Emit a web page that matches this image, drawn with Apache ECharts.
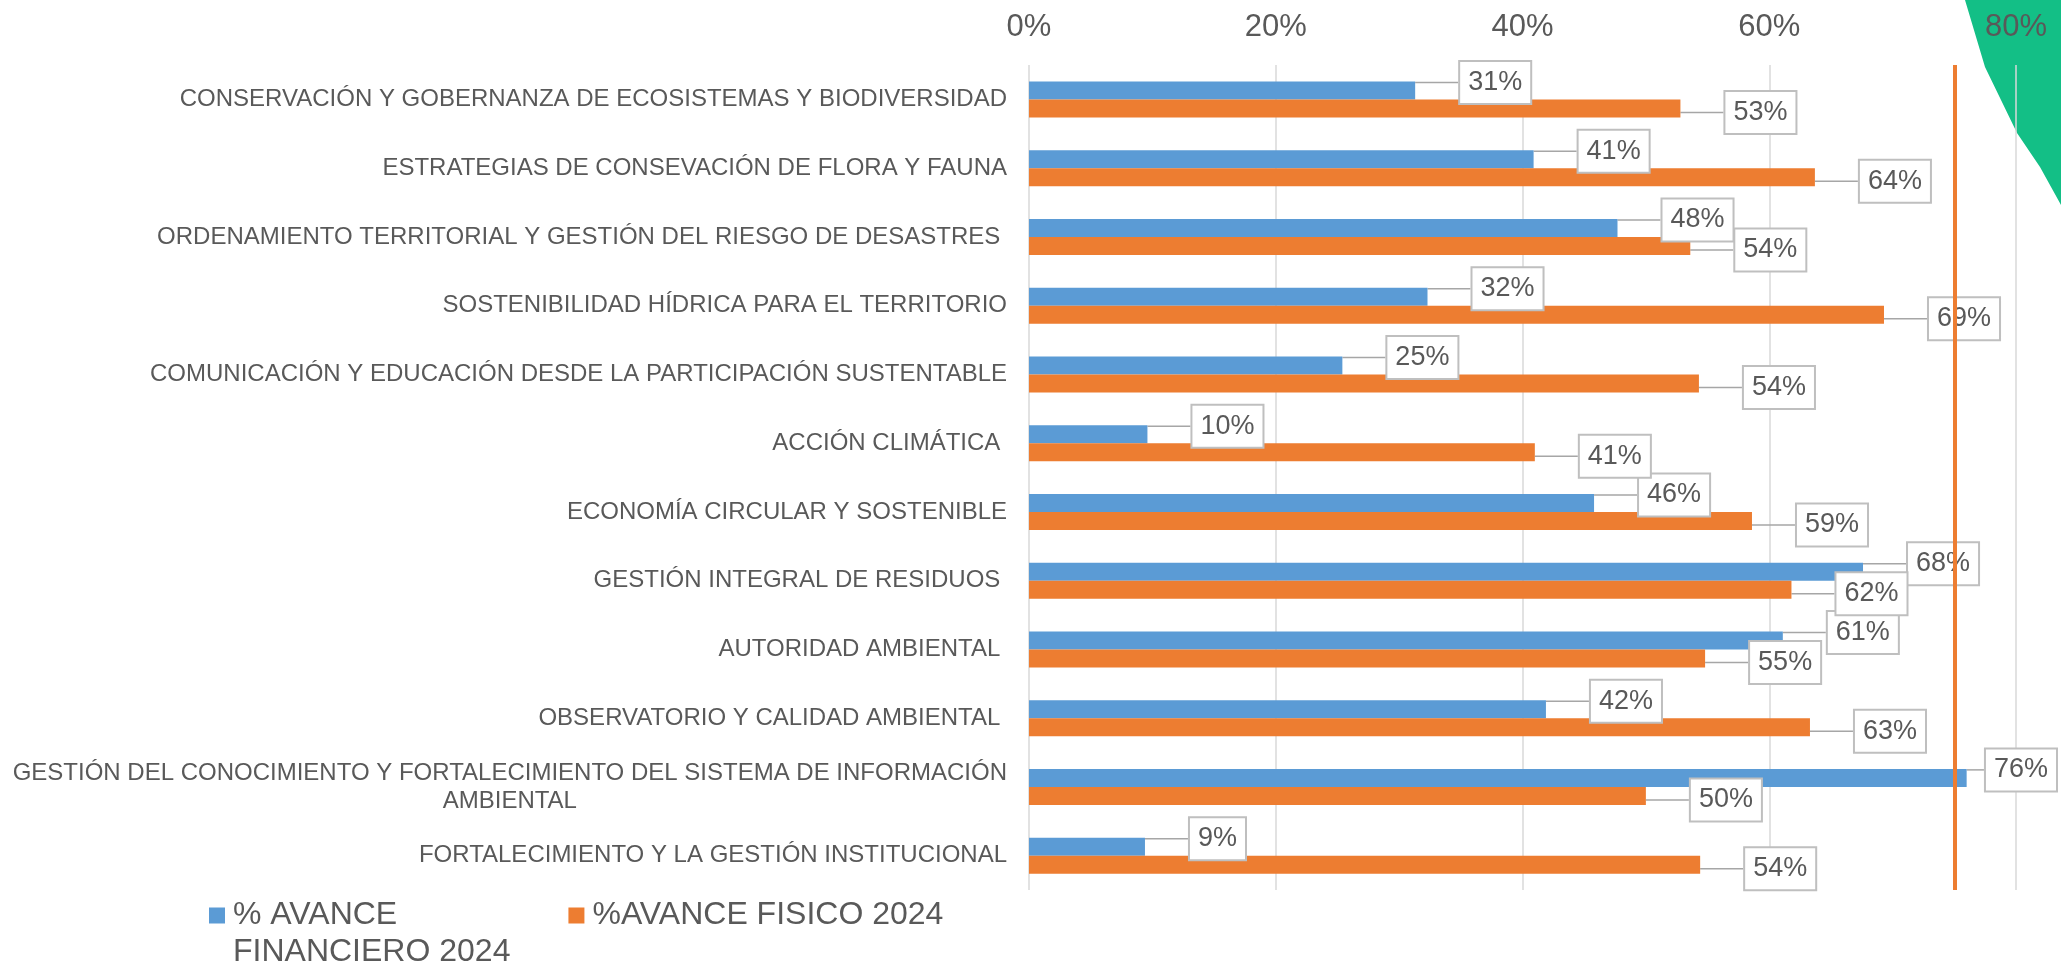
<!DOCTYPE html>
<html>
<head lang="es">
    <meta charset="UTF-8"/>
    <title>Avance por línea estratégica 2024</title>
    <script src="https://cdn.jsdelivr.net/npm/echarts@6/dist/echarts.min.js"></script>
    <style>
        html, body { margin: 0; padding: 0; background: #ffffff; }
        #grafico { width: 2061px; height: 964px; }
    </style>
</head>
<body>
<div id="grafico"></div>
<script>
    // lineas (de arriba hacia abajo)
    var lineas = [
        'CONSERVACIÓN Y GOBERNANZA DE ECOSISTEMAS Y BIODIVERSIDAD',
        'ESTRATEGIAS DE CONSEVACIÓN DE FLORA Y FAUNA',
        'ORDENAMIENTO TERRITORIAL Y GESTIÓN DEL RIESGO DE DESASTRES ',
        'SOSTENIBILIDAD HÍDRICA PARA EL TERRITORIO',
        'COMUNICACIÓN Y EDUCACIÓN DESDE LA PARTICIPACIÓN SUSTENTABLE',
        'ACCIÓN CLIMÁTICA ',
        'ECONOMÍA CIRCULAR Y SOSTENIBLE',
        'GESTIÓN INTEGRAL DE RESIDUOS ',
        'AUTORIDAD AMBIENTAL ',
        'OBSERVATORIO Y CALIDAD AMBIENTAL ',
        'GESTIÓN DEL CONOCIMIENTO Y FORTALECIMIENTO DEL SISTEMA DE INFORMACIÓN\nAMBIENTAL',
        'FORTALECIMIENTO Y LA GESTIÓN INSTITUCIONAL'
    ];
    var financiero = [31.3, 40.9, 47.7, 32.3, 25.4, 9.6, 45.8, 67.6, 61.1, 41.9, 76.0, 9.4];
    var fisico = [52.8, 63.7, 53.6, 69.3, 54.3, 41.0, 58.6, 61.8, 54.8, 63.3, 50.0, 54.4];
    var nombres = ['% AVANCE\nFINANCIERO 2024', '%AVANCE FISICO 2024'];
    var ejeMin = 0, ejeMax = 80, ejePaso = 20;
    var meta = 75;

    var fuente = "'Liberation Sans', Arial, sans-serif";
    var gris = '#595959';

    var chart = echarts.init(document.getElementById('grafico'));

    var etiqueta = {
        show: true,
        position: 'right',
        distance: 5,
        formatter: function (p) {
            return Math.round(p.value) + '%';
        },
        fontFamily: fuente,
        fontSize: 27,
        lineHeight: 29,
        color: gris,
        backgroundColor: '#ffffff',
        borderColor: '#bfbfbf',
        borderWidth: 2,
        padding: [6, 8, 6, 8]
    };
    var guia = {
        show: true,
        lineStyle: {color: '#a6a6a6', width: 1.5}
    };

    // corre la etiqueta a la derecha sin salirse del lienzo
    function mover(dy) {
        return function (p) {
            var libre = chart.getWidth() - 3 - (p.labelRect.x + p.labelRect.width);
            return {dx: Math.min(40, libre), dy: dy, moveOverlap: 'shiftY'};
        };
    }

    var option = {
        animation: false,
        textStyle: {fontFamily: fuente},
        graphic: [{
            type: 'polygon',
            silent: true,
            z: -10,
            shape: {
                points: [[1965, 0], [2061, 0], [2061, 205], [2040, 167], [2017, 133], [1985, 67]]
            },
            style: {fill: '#13bf86'}
        }],
        grid: {left: 1029, right: 45, top: 65, bottom: 74, outerBoundsMode: 'none'},
        legend: {
            left: 209,
            top: 860,
            padding: 0,
            itemWidth: 16,
            itemHeight: 16,
            itemGap: 58,
            icon: 'rect',
            formatter: function (name) {
                return name.indexOf('\n') >= 0 ? '\n' + name : name;
            },
            textStyle: {fontFamily: fuente, fontSize: 32, lineHeight: 37, color: gris, padding: [0, 0, 0, 3]},
            data: nombres
        },
        xAxis: {
            type: 'value',
            position: 'top',
            min: ejeMin,
            max: ejeMax,
            interval: ejePaso,
            axisLine: {show: false},
            axisTick: {show: false},
            axisLabel: {
                formatter: '{value}%',
                fontFamily: fuente,
                fontSize: 31,
                color: gris,
                margin: 22
            },
            splitLine: {lineStyle: {color: '#d9d9d9', width: 1.5}}
        },
        yAxis: {
            type: 'category',
            inverse: true,
            data: lineas,
            axisLine: {show: false},
            axisTick: {show: false},
            axisLabel: {
                margin: 22,
                formatter: function (v) {
                    return v.split('\n').map(function (l) {
                        return '{c|' + l + '}';
                    }).join('\n');
                },
                rich: {
                    c: {align: 'center', fontFamily: fuente, fontSize: 24, lineHeight: 28, color: gris}
                }
            }
        },
        series: [{
            name: nombres[0],
            type: 'bar',
            data: financiero,
            barWidth: 18,
            barGap: '0%',
            itemStyle: {color: '#5b9bd5'},
            label: etiqueta,
            labelLine: guia,
            labelLayout: mover(-8)
        }, {
            name: nombres[1],
            type: 'bar',
            data: fisico,
            barWidth: 18,
            barGap: '0%',
            itemStyle: {color: '#ed7d31'},
            label: etiqueta,
            labelLine: guia,
            labelLayout: mover(4),
            markLine: {
                silent: true,
                symbol: 'none',
                label: {show: false},
                lineStyle: {color: '#ed7d31', width: 4, type: 'solid'},
                data: [{xAxis: meta}]
            }
        }]
    };
    chart.setOption(option);
</script>
</body>
</html>
